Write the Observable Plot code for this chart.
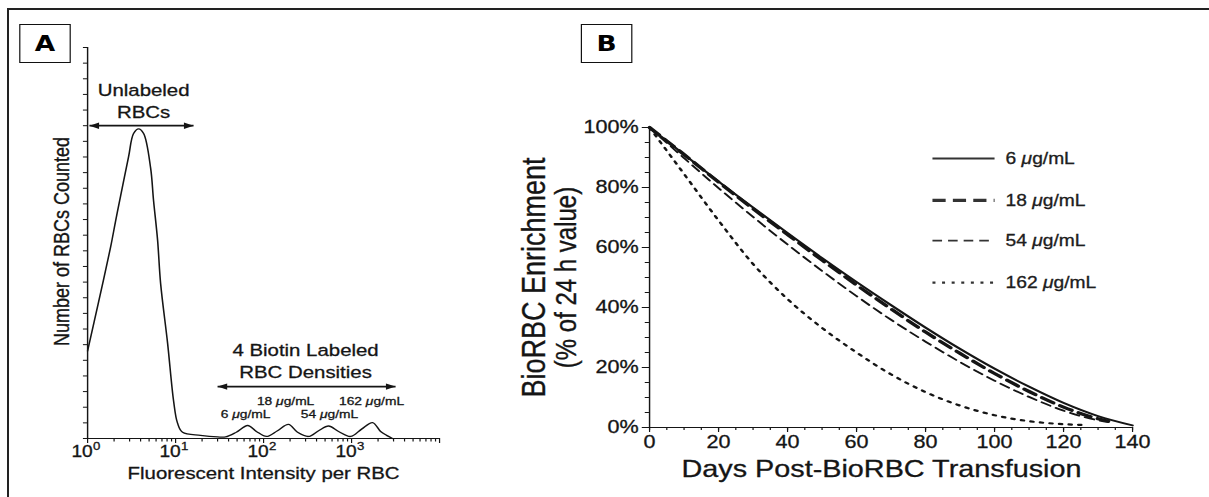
<!DOCTYPE html>
<html>
<head>
<meta charset="utf-8">
<script src="https://cdn.jsdelivr.net/npm/d3@7"></script>
<script src="https://cdn.jsdelivr.net/npm/@observablehq/plot@0.6"></script>
<style>
  html, body { margin: 0; padding: 0; background: #fff; }
  #fig { position: relative; width: 1209px; height: 497px; overflow: hidden; background: #fff;
         font-family: "Liberation Sans", Arial, sans-serif; color: #111; }
  /* the whole figure is laid out narrower and widened by 1.2 */
  #stretch { position: absolute; left: 0; top: 0; width: 1007.5px; height: 497px;
             transform: scaleX(1.2); transform-origin: 0 0; }
  .panel { position: absolute; top: 0; }
  .panel svg { display: block; overflow: visible; }
  .panel svg text { stroke: #151515; stroke-width: 0.3px; }
  .tag { position: absolute; top: 24px; height: 39px; box-sizing: border-box; border: 1.5px solid #111;
         font: bold 22px "DejaVu Sans", sans-serif; color: #000;
         display: flex; align-items: center; justify-content: center; }
  .edge-top { position: absolute; left: 7px; top: 8px; right: 0; height: 2px; background: #222; }
  .edge-left { position: absolute; left: 7px; top: 8px; bottom: 0; width: 2px; background: #222; }
</style>
</head>
<body>
<div id="fig">
  <div class="edge-top"></div>
  <div class="edge-left"></div>
  <div id="stretch">
    <div class="tag" style="left:15.8px;width:43.3px">A</div>
    <div class="tag" style="left:484.2px;width:42.5px">B</div>
    <div class="panel" id="panelA" style="left:0"></div>
    <div class="panel" id="panelB" style="left:400px"></div>
  </div>
</div>
<script>
// ---------- Panel A: flow cytometry histogram ----------
const intensity = [1.0, 1.33, 1.82, 2.08, 2.37, 2.92, 3.33, 3.8, 4.33, 5.2, 5.62, 6.24, 6.76, 8.11, 9.49,
                   10.5, 12.0, 19.2, 30, 37, 49, 66, 83, 108, 144, 192, 243, 324, 422, 548, 712, 975,
                   1300, 1730, 2140, 2500, 2920];
const rbcCount = [56, 87, 122, 139, 155, 180, 195, 198, 195, 173, 152, 127, 99, 61, 24,
                  10, 4, 2, 1, 1, 4, 8.3, 4.5, 1.3, 5, 9, 4, 1.3, 5, 8, 4.5, 1.3,
                  6, 10.2, 4.5, 2, 0];
const decades = [1, 10, 100, 1000, 10000];
const decadeLabels = [1, 10, 100, 1000];
const minorTicks = [1, 10, 100, 1000].flatMap(d => [2, 3, 4, 5, 6, 7, 8, 9].map(m => m * d));

// bracket arrows and their captions
const arrowFrom = [1.05, 30];
const arrowTo = [16, 3162];
const arrowAt = [200, 33.2];
const arrowText = ["Unlabeled\nRBCs", "4 Biotin Labeled\nRBC Densities"];
const arrowTextX = [4.33, 300];
const arrowTextY = [205, 38.4];

// dose labels over the four labelled peaks
const peakLabel = ["6 μg/mL", "18 μg/mL", "54 μg/mL", "162 μg/mL"];
const peakLabelX = [62.4, 178, 562, 1687];
const peakLabelY = [12.8, 21.7, 12.8, 21.7];

// ---------- Panel B: enrichment decay ----------
const doses = ["6 μg/mL", "18 μg/mL", "54 μg/mL", "162 μg/mL"];
const days6 = [0, 10, 20, 30, 40, 50, 60, 70, 80, 90, 100, 110, 120, 130, 140];
const enrich6 = [100, 91, 82, 73.3, 64.8, 56.5, 48.5, 40.8, 33.3, 26.2, 19.6, 13.6, 8.2, 3.8, 0.7];
const days18 = [0, 10, 20, 30, 40, 50, 60, 70, 80, 90, 100, 110, 120, 130, 133];
const enrich18 = [100, 91, 81.8, 72.9, 64.3, 55.8, 47.5, 39.5, 31.8, 24.7, 18, 12, 6.8, 2.9, 2.1];
const days54 = [0, 10, 20, 30, 40, 50, 60, 70, 80, 90, 100, 110, 120, 130, 133];
const enrich54 = [100, 89.8, 79.8, 70.2, 61, 52.2, 43.8, 35.9, 28.6, 21.8, 15.6, 10.2, 5.6, 2.4, 1.8];
const days162 = [0, 10, 20, 30, 40, 50, 60, 70, 80, 90, 100, 110, 120, 127];
const enrich162 = [100, 84.5, 69, 54.5, 42.8, 33.2, 25, 17.7, 11.8, 7.3, 4.1, 2.1, 1.1, 0.8];

const seriesDays = [days6, days18, days54, days162];
const seriesValues = [enrich6, enrich18, enrich54, enrich162];
const lineStyles = [
  {strokeWidth: 2},
  {strokeWidth: 3.2, strokeDasharray: "11,6"},
  {strokeWidth: 1.8, strokeDasharray: "8,5"},
  {strokeWidth: 2.2, strokeDasharray: "2.5,5.5"}
];
const legendRowY = [89.7, 75.7, 62.3, 48.3];
const legendX1 = 82, legendX2 = 100, legendTextX = 103.2;

const ink = "#151515";
const font = "'Liberation Sans', Arial, sans-serif";

// filled arrowheads, tip at the data point
const headRight = {draw(ctx) { ctx.moveTo(0, 0); ctx.lineTo(-8, -3.2); ctx.lineTo(-8, 3.2); ctx.closePath(); }};
const headLeft = {draw(ctx) { ctx.moveTo(0, 0); ctx.lineTo(8, -3.2); ctx.lineTo(8, 3.2); ctx.closePath(); }};

const histo = intensity.map((x, i) => ({x, y: rbcCount[i]}));
const arrows = arrowFrom.map((x1, i) => ({x1, x2: arrowTo[i], y: arrowAt[i], text: arrowText[i], tx: arrowTextX[i], ty: arrowTextY[i]}));
const peaks = peakLabel.map((t, i) => ({t, x: peakLabelX[i], y: peakLabelY[i]}));

const chartA = Plot.plot({
  width: 400, height: 497,
  marginLeft: 72.5, marginRight: 34.2, marginTop: 47, marginBottom: 59,
  x: {type: "log", domain: [1, 10000]},
  y: {domain: [0, 250]},
  style: {fontFamily: font, fontSize: "17px", color: ink, background: "transparent", overflow: "visible"},
  marks: [
    Plot.axisY({ticks: d3.range(0, 251, 10), tickSize: 3.4, tickFormat: () => "", label: null}),
    Plot.axisX({ticks: minorTicks, tickSize: 3.5, tickFormat: () => "", label: null}),
    Plot.axisX({ticks: decades, tickSize: 5, tickFormat: () => "", label: null}),
    Plot.ruleY([0], {stroke: ink, strokeWidth: 1.2}),
    Plot.ruleX([1], {y1: 0, y2: 250, stroke: ink, strokeWidth: 1.2}),
    Plot.text(decadeLabels, {x: d => d, y: () => 0, text: () => "10", dx: -4.6, dy: 7, lineAnchor: "top", fontSize: 16}),
    Plot.text(decadeLabels, {x: d => d, y: () => 0, text: d => String(Math.round(Math.log10(d))), dx: 7.5, dy: 4, lineAnchor: "top", fontSize: 11}),
    Plot.text(["Fluorescent Intensity per RBC"], {frameAnchor: "bottom", dy: 40, lineAnchor: "bottom", fontSize: 17}),
    Plot.text(["Number of RBCs Counted"], {frameAnchor: "left", textAnchor: "middle", rotate: -90, dx: -21, dy: -1.5, fontSize: 18}),
    Plot.line(histo, {x: "x", y: "y", curve: "catmull-rom", stroke: ink, strokeWidth: 1.3}),
    Plot.link(arrows, {x1: "x1", x2: "x2", y1: "y", y2: "y", stroke: ink, strokeWidth: 1.8}),
    Plot.dot(arrows, {x: "x1", y: "y", symbol: headLeft, fill: ink, stroke: null}),
    Plot.dot(arrows, {x: "x2", y: "y", symbol: headRight, fill: ink, stroke: null}),
    Plot.text(arrows, {x: "tx", y: "ty", text: "text", lineAnchor: "bottom", lineHeight: 1.3, fontSize: 17}),
    Plot.text(peaks, {x: "x", y: "y", text: "t", lineAnchor: "bottom", fontSize: 11.5})
  ]
});
document.getElementById("panelA").appendChild(chartA);

const seriesMarks = seriesDays.flatMap((ds, i) => {
  const pts = ds.map((d, j) => ({d, v: seriesValues[i][j]}));
  const row = [{y: legendRowY[i], label: doses[i]}];
  return [
    Plot.line(pts, {x: "d", y: "v", curve: "monotone-x", stroke: ink, ...lineStyles[i]}),
    Plot.link(row, {x1: () => legendX1, x2: () => legendX2, y1: "y", y2: "y", stroke: "#333", ...lineStyles[i]}),
    Plot.text(row, {x: () => legendTextX, y: "y", text: "label", textAnchor: "start", fontSize: 16, fill: "#222"})
  ];
});

const chartB = Plot.plot({
  width: 607.5, height: 497,
  marginLeft: 140.8, marginRight: 64.2, marginTop: 127, marginBottom: 70,
  x: {domain: [0, 140]},
  y: {domain: [0, 100]},
  style: {fontFamily: font, fontSize: "18px", color: ink, background: "transparent", overflow: "visible"},
  marks: [
    Plot.axisY({ticks: d3.range(0, 101, 5), tickSize: 3.5, tickFormat: () => "", label: null}),
    Plot.axisY({ticks: d3.range(0, 101, 20), tickSize: 6, tickPadding: 3, tickFormat: d => d + "%", label: null}),
    Plot.axisX({ticks: d3.range(0, 141, 5), tickSize: 3, tickFormat: () => "", label: null}),
    Plot.axisX({ticks: d3.range(0, 141, 20), tickSize: 5, tickPadding: 3, label: null}),
    Plot.ruleX([0], {y1: 0, y2: 100, stroke: ink, strokeWidth: 1.2}),
    Plot.ruleY([0], {x1: 0, x2: 140, stroke: ink, strokeWidth: 1.2}),
    ...seriesMarks,
    Plot.text(["Days Post-BioRBC Transfusion"], {frameAnchor: "bottom", dx: -8, dy: 49, lineAnchor: "bottom", fontSize: 24}),
    Plot.text(["BioRBC Enrichment"], {frameAnchor: "left", textAnchor: "middle", rotate: -90, dx: -96, fontSize: 27}),
    Plot.text(["(% of 24 h value)"], {frameAnchor: "left", textAnchor: "middle", rotate: -90, dx: -69, fontSize: 24})
  ]
});
document.getElementById("panelB").appendChild(chartB);

// set the micro sign in italics
for (const svg of [chartA, chartB]) {
  svg.querySelectorAll("text").forEach(t => {
    if (t.children.length === 0 && t.textContent.includes("μ")) {
      const parts = t.textContent.split("μ");
      t.textContent = "";
      parts.forEach((p, i) => {
        if (i > 0) {
          const s = document.createElementNS("http://www.w3.org/2000/svg", "tspan");
          s.setAttribute("font-style", "italic");
          s.textContent = "μ";
          t.appendChild(s);
        }
        t.appendChild(document.createTextNode(p));
      });
    }
  });
}
</script>
</body>
</html>
